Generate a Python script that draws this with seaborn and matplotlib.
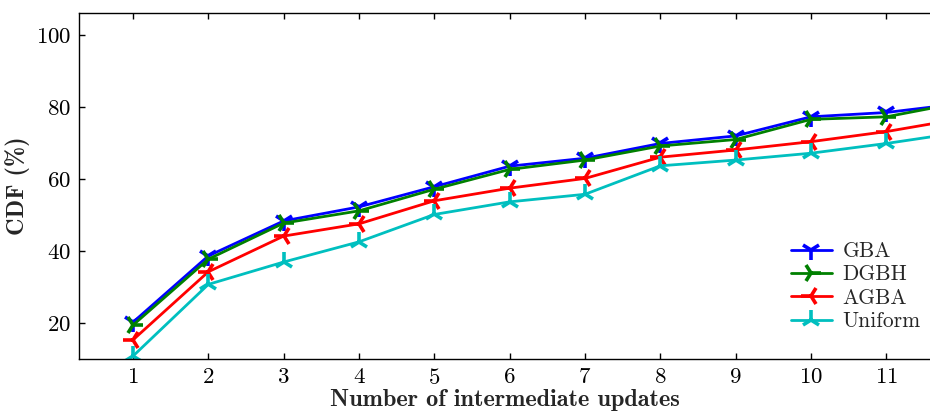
import matplotlib
matplotlib.use("Agg")
import matplotlib.pyplot as plt
import seaborn as sns
import pandas as pd

updates = [1, 2, 3, 4, 5, 6, 7, 8, 9, 10, 11, 12]
gba = [20.3, 38.7, 48.4, 52.3, 57.9, 63.6, 65.8, 69.9, 72.0, 77.3, 78.5, 81.0]
dgbh = [19.5, 37.8, 47.8, 51.2, 57.2, 62.7, 65.3, 69.2, 71.0, 76.6, 77.3, 81.3]
agba = [15.4, 34.3, 44.2, 47.6, 54.0, 57.5, 60.2, 66.1, 68.1, 70.4, 73.2, 76.8]
uniform = [10.9, 30.8, 37.0, 42.6, 50.2, 53.7, 55.8, 63.7, 65.3, 67.2, 69.9, 73.0]

series_names = ["GBA", "DGBH", "AGBA", "Uniform"]
series_values = [gba, dgbh, agba, uniform]
colors = ["#0000ff", "#008000", "#ff0000", "#00bfbf"]
markers = ["1", "4", "3", "2"]

frames = [pd.DataFrame({"updates": updates, "cdf": v, "scheme": n})
          for n, v in zip(series_names, series_values)]
df = pd.concat(frames, ignore_index=True)

sns.set_style("ticks")
plt.rcParams["font.family"] = ["cmr10", "DejaVu Serif"]
plt.rcParams["axes.formatter.use_mathtext"] = True
plt.rcParams["mathtext.fontset"] = "cm"

fig = plt.figure(figsize=(9.3, 4.16), dpi=100)
ax = fig.add_axes([0.0853, 0.1363, 0.9147, 0.8332])

for name, color, mk in zip(series_names, colors, markers):
    sub = df[df["scheme"] == name]
    sns.lineplot(data=sub, x="updates", y="cdf", ax=ax, color=color,
                 marker=mk, markersize=14, markeredgewidth=2.6,
                 markeredgecolor=color, markerfacecolor=color,
                 linewidth=2.0, label=name)

ax.set_xlim(0.287, 11.58)
ax.set_ylim(10.0, 106.2)
ax.set_xticks(updates[:11])
ax.set_yticks([20, 40, 60, 80, 100])

ax.set_xlabel("Number of intermediate updates", fontsize=17.5,
              family=["cmb10", "DejaVu Serif"], labelpad=1)
ax.set_ylabel("CDF (%)", fontsize=17.5, family=["cmb10", "DejaVu Serif"],
              labelpad=4)

ax.tick_params(axis="both", which="major", direction="in", length=4,
               width=1, labelsize=16.5, colors="black", pad=6,
               top=True, right=False)
for side in ["left", "bottom", "top"]:
    ax.spines[side].set_linewidth(1.0)
    ax.spines[side].set_color("black")
ax.spines["right"].set_visible(False)

ax.legend(loc="lower right", bbox_to_anchor=(1.012, 0.025), frameon=False,
          fontsize=15.5, handlelength=1.9, handletextpad=0.5,
          labelspacing=0.18)

fig.savefig("out.png", dpi=100)
